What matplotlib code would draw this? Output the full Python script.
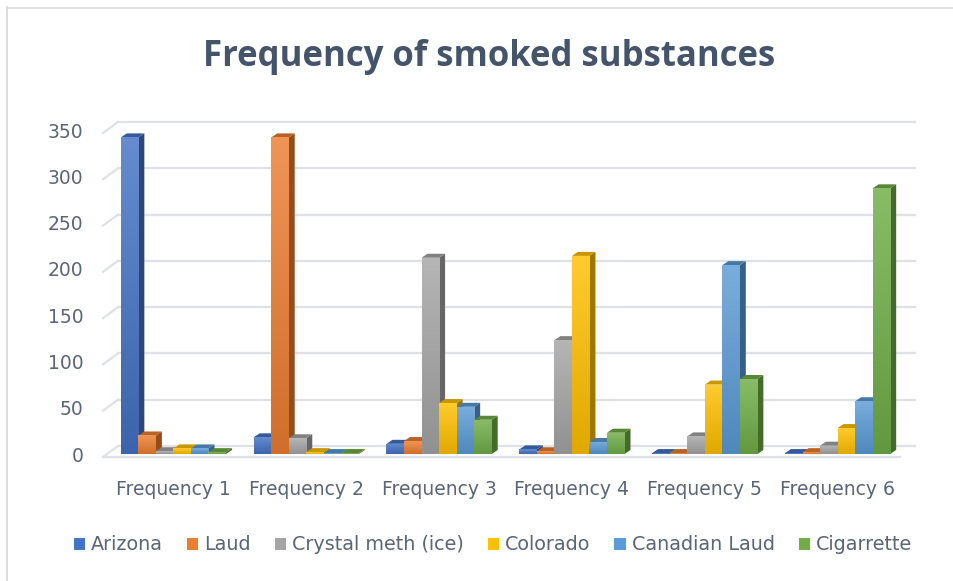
import numpy as np
import matplotlib
matplotlib.use("Agg")
import matplotlib.pyplot as plt
from matplotlib.patches import Polygon, Patch
from matplotlib.lines import Line2D
from matplotlib.colors import to_rgb, LinearSegmentedColormap

# ---- data ----
categories = ["Frequency 1", "Frequency 2", "Frequency 3",
              "Frequency 4", "Frequency 5", "Frequency 6"]
series_names = ["Arizona", "Laud", "Crystal meth (ice)", "Colorado",
                "Canadian Laud", "Cigarrette"]
arizona = [342, 18, 11, 5, 1, 1]
laud = [20, 342, 14, 3, 1, 2]
crystal_meth = [3, 17, 212, 123, 19, 9]
colorado = [6, 2, 55, 214, 75, 28]
canadian_laud = [6, 1, 51, 13, 204, 57]
cigarrette = [2, 1, 37, 23, 81, 287]
series_values = [arizona, laud, crystal_meth, colorado, canadian_laud, cigarrette]
y_ticks = [0, 50, 100, 150, 200, 250, 300, 350]

colors = ["#4472C4", "#ED7D31", "#A5A5A5", "#FFC000", "#5B9BD5", "#70AD47"]
text_color = "#5A6577"
title_color = "#44546A"
grid_color = "#DEE1E6"

W, H, DPI = 954, 581, 100
fig = plt.figure(figsize=(W / DPI, H / DPI), dpi=DPI)
fig.patch.set_facecolor("white")

# axes placed in pixel terms (front plane of the bars)
ax_left, ax_right = 107, 904
ax_bottom_px, ax_top_px = 454, 130   # from top of image
ax = fig.add_axes([ax_left / W, (H - ax_bottom_px) / H,
                   (ax_right - ax_left) / W, (ax_bottom_px - ax_top_px) / H])
xlim = (-0.5, len(categories) - 0.5)
ylim = (0, 350)
ax.set_xlim(*xlim)
ax.set_ylim(*ylim)
for s in ax.spines.values():
    s.set_visible(False)
ax.set_facecolor("none")

# pixel -> data unit conversions
px_x = (xlim[1] - xlim[0]) / (ax_right - ax_left)
px_y = (ylim[1] - ylim[0]) / (ax_bottom_px - ax_top_px)

# wall / floor depth offsets in pixels
front_dx, front_dy = -4, -3      # floor front edge relative to bar plane
back_dx, back_dy = 11, 8          # back wall relative to bar plane
x_lo, x_hi = xlim

# gridlines on back wall + diagonals on left wall
for v in y_ticks:
    yb = v + back_dy * px_y
    ax.add_line(Line2D([x_lo + back_dx * px_x, x_hi + back_dx * px_x], [yb, yb],
                       color=grid_color, lw=1.6, clip_on=False, zorder=0))
    ax.add_line(Line2D([x_lo + front_dx * px_x, x_lo + back_dx * px_x],
                       [v + front_dy * px_y, yb],
                       color=grid_color, lw=1.6, clip_on=False, zorder=0))
# floor front edge
ax.add_line(Line2D([x_lo + front_dx * px_x, x_hi + front_dx * px_x],
                   [front_dy * px_y, front_dy * px_y],
                   color=grid_color, lw=1.6, clip_on=False, zorder=0))


def shade(c, f):
    r, g, b = to_rgb(c)
    return (r * f, g * f, b * f)


def tint(c, f):
    r, g, b = to_rgb(c)
    return (r + (1 - r) * f, g + (1 - g) * f, b + (1 - b) * f)


n_series = len(series_values)
bar_w = 0.132
side_dx, side_dy = 6 * px_x, 4 * px_y
x = np.arange(len(categories))

z = 2
for ci in range(len(categories)):
    for si in range(n_series):
        val = series_values[si][ci]
        c = colors[si]
        x0 = ci + (si - n_series / 2) * bar_w
        bar = ax.bar(x0, val, width=bar_w, align="edge", color=c,
                     linewidth=0, zorder=z + 0.5)[0]
        # vertical gradient on the front face
        cmap = LinearSegmentedColormap.from_list(
            "g", [shade(c, 0.88), tint(c, 0.18)])
        grad = np.linspace(0, 1, 64).reshape(-1, 1)
        im = ax.imshow(grad, extent=[x0, x0 + bar_w, 0, max(val, 0.01)],
                       origin="lower", cmap=cmap, aspect="auto",
                       zorder=z + 0.6, interpolation="bilinear")
        im.set_clip_path(bar)
        # right side face
        side = Polygon([(x0 + bar_w, 0), (x0 + bar_w + side_dx, side_dy),
                        (x0 + bar_w + side_dx, val + side_dy), (x0 + bar_w, val)],
                       closed=True, facecolor=shade(c, 0.62), edgecolor="none",
                       zorder=z + 0.2, clip_on=False)
        ax.add_patch(side)
        # top face
        top = Polygon([(x0, val), (x0 + bar_w, val),
                       (x0 + bar_w + side_dx, val + side_dy), (x0 + side_dx, val + side_dy)],
                      closed=True, facecolor=shade(c, 0.78), edgecolor="none",
                      zorder=z + 0.3, clip_on=False)
        ax.add_patch(top)
        z += 1

ax.set_xlim(*xlim)
ax.set_ylim(*ylim)

ax.set_yticks(y_ticks)
ax.set_xticks(x)
ax.set_xticklabels(categories)
ax.tick_params(axis="both", length=0, labelsize=13.5, labelcolor=text_color)
ax.tick_params(axis="y", pad=17)
ax.tick_params(axis="x", pad=19)

fig.text(489 / W, 1 - 57 / H, "Frequency of smoked substances",
         ha="center", va="center", fontsize=25, fontweight="bold",
         family="Open Sans", color=title_color)

handles = [Patch(facecolor=c, edgecolor="none") for c in colors]
fig.legend(handles, series_names, loc="center", bbox_to_anchor=(493 / W, 1 - 545 / H),
           ncol=6, frameon=False, fontsize=13.8, labelcolor=text_color,
           handlelength=0.6, handleheight=0.6, handletextpad=0.3,
           columnspacing=1.25)

# chart frame (top and left edges)
fig.add_artist(Line2D([7 / W, 1], [1 - 7.5 / H, 1 - 7.5 / H],
                      transform=fig.transFigure, color="#D9D9D9", lw=1.2))
fig.add_artist(Line2D([7.5 / W, 7.5 / W], [0, 1 - 7 / H],
                      transform=fig.transFigure, color="#D9D9D9", lw=1.2))

fig.savefig("out.png", dpi=DPI)
